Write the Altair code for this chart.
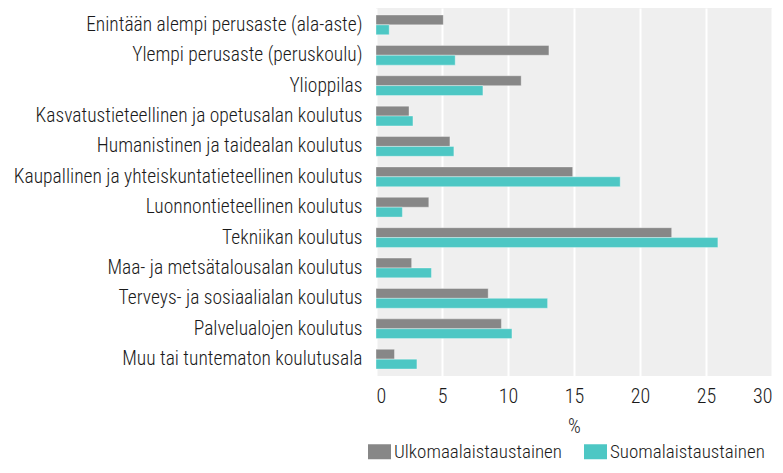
import altair as alt
import pandas as pd

categories = [
    "Enintään alempi perusaste (ala-aste)",
    "Ylempi perusaste (peruskoulu)",
    "Ylioppilas",
    "Kasvatustieteellinen ja opetusalan koulutus",
    "Humanistinen ja taidealan koulutus",
    "Kaupallinen ja yhteiskuntatieteellinen koulutus",
    "Luonnontieteellinen koulutus",
    "Tekniikan koulutus",
    "Maa- ja metsätalousalan koulutus",
    "Terveys- ja sosiaalialan koulutus",
    "Palvelualojen koulutus",
    "Muu tai tuntematon koulutusala",
]
series = ["Ulkomaalaistaustainen", "Suomalaistaustainen"]
ulkomaalais = [5.1, 13.1, 11.0, 2.5, 5.6, 14.9, 4.0, 22.4, 2.7, 8.5, 9.5, 1.4]
suomalais = [1.0, 6.0, 8.1, 2.8, 5.9, 18.5, 2.0, 25.9, 4.2, 13.0, 10.3, 3.1]
x_ticks = [0, 5, 10, 15, 20, 25, 30]

rows = []
for c, u, s in zip(categories, ulkomaalais, suomalais):
    rows.append({"cat": c, "series": series[0], "value": u})
    rows.append({"cat": c, "series": series[1], "value": s})
df = pd.DataFrame(rows)

FONT = "Roboto Condensed, sans-serif"
FW = 300

chart = alt.Chart(df).mark_bar(
    stroke="white", strokeOpacity=0.35, strokeWidth=1
).encode(
    y=alt.Y(
        "cat:N",
        sort=categories,
        scale=alt.Scale(paddingInner=0.35, paddingOuter=0.23),
        axis=alt.Axis(
            title=None, domain=False, ticks=False, labelPadding=14,
            labelFontSize=19.5, labelFontWeight=FW, labelColor="#1a1a1a",
            labelLimit=500,
        ),
    ),
    yOffset=alt.YOffset("series:N", sort=series),
    x=alt.X(
        "value:Q",
        scale=alt.Scale(domain=[0, 30], nice=False),
        axis=alt.Axis(
            values=x_ticks, title="%", domain=False, ticks=False,
            grid=True, gridColor="white", gridWidth=2,
            labelFontSize=20, labelFontWeight=FW, labelColor="#1a1a1a",
            labelPadding=10,
            titleFontSize=20, titleFontWeight=FW, titleColor="#1a1a1a",
            titlePadding=10,
        ),
    ),
    color=alt.Color(
        "series:N",
        sort=series,
        scale=alt.Scale(domain=series, range=["#878787", "#4DC7C4"]),
        legend=alt.Legend(
            title=None, orient="none", legendX=-8, legendY=432,
            direction="horizontal",
            symbolType="M-1,-0.652H1V0.652H-1Z", symbolSize=529,
            symbolStrokeWidth=0, symbolOpacity=1,
            labelFontSize=19, labelFontWeight=FW, labelColor="#1a1a1a",
            labelOffset=3, columnPadding=22, padding=0, labelLimit=400,
        ),
    ),
).properties(
    width=396,
    height=368,
    autosize=alt.AutoSizeParams(type="none"),
    padding={"left": 368, "top": 0, "right": 3, "bottom": 87},
).configure(
    font=FONT,
).configure_view(
    fill="#EFEFEF", strokeWidth=0,
).configure_axis(
    labelFont=FONT, titleFont=FONT,
).configure_legend(
    labelFont=FONT,
)

chart.save("out.html", embed_options={"renderer": "svg", "actions": False})
